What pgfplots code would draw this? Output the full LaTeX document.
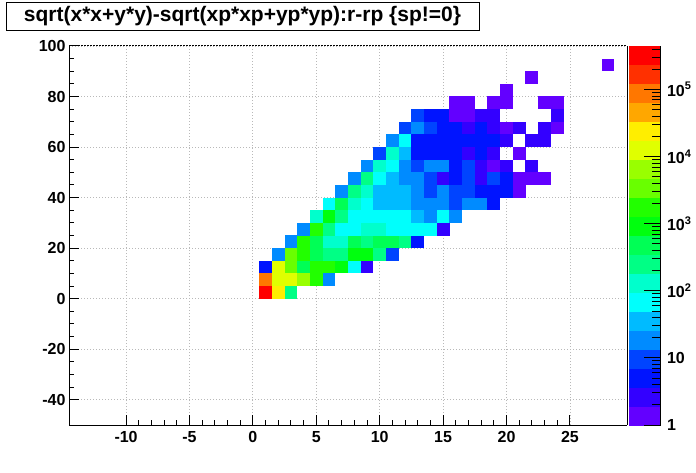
\documentclass[border=0pt]{standalone}
\usepackage{fontspec}
\setmainfont{Liberation Sans}
\usepackage{pgfplots}
\pgfplotsset{compat=1.18}
\usepackage{pgfplotstable}
\pgfdeclareplotmark{cell}{\pgfpathrectangle{\pgfpoint{-6.42pt}{-6.38pt}}{\pgfpoint{12.84pt}{12.76pt}}\pgfusepathqfill}
\newcommand\sups[1]{\raisebox{0.42em}{\fontsize{11}{11}\selectfont #1}}
\pgfplotstableread{
x y n
1 2.5 330000
2 2.5 25000
3 2.5 250
1 7.5 90000
2 7.5 12000
3 7.5 12000
4 7.5 6500
5 7.5 1800
6 7.5 20
1 12.5 5
2 12.5 12000
3 12.5 3500
4 12.5 500
5 12.5 1800
6 12.5 1800
7 12.5 900
8 12.5 70
9 12.5 3
2 17.5 20
3 17.5 3500
4 17.5 1800
5 17.5 500
6 17.5 250
7 17.5 250
8 17.5 900
9 17.5 900
10 17.5 250
11 17.5 10
3 22.5 20
4 22.5 1800
5 22.5 500
6 22.5 130
7 22.5 130
8 22.5 500
9 22.5 250
10 22.5 500
11 22.5 500
12 22.5 250
13 22.5 5
4 27.5 20
5 27.5 1800
6 27.5 250
7 27.5 70
8 27.5 70
9 27.5 130
10 27.5 130
11 27.5 70
12 27.5 70
13 27.5 70
14 27.5 70
15 27.5 3
5 32.5 130
6 32.5 900
7 32.5 250
8 32.5 70
9 32.5 70
10 32.5 70
11 32.5 70
12 32.5 70
13 32.5 35
14 32.5 20
15 32.5 70
16 32.5 20
6 37.5 70
7 37.5 500
8 37.5 130
9 37.5 70
10 37.5 35
11 37.5 35
12 37.5 35
13 37.5 20
14 37.5 20
15 37.5 20
16 37.5 10
17 37.5 20
18 37.5 20
19 37.5 5
7 42.5 20
8 42.5 250
9 42.5 130
10 42.5 35
11 42.5 35
12 42.5 35
13 42.5 20
14 42.5 10
15 42.5 20
16 42.5 10
17 42.5 10
18 42.5 5
19 42.5 5
20 42.5 5
21 42.5 1
8 47.5 20
9 47.5 250
10 47.5 70
11 47.5 35
12 47.5 20
13 47.5 20
14 47.5 10
15 47.5 3
16 47.5 5
17 47.5 10
18 47.5 3
19 47.5 10
20 47.5 5
21 47.5 1
22 47.5 1
23 47.5 1
9 52.5 20
10 52.5 130
11 52.5 70
12 52.5 20
13 52.5 10
14 52.5 20
15 52.5 20
16 52.5 5
17 52.5 10
18 52.5 3
19 52.5 1
20 52.5 3
22 52.5 3
10 57.5 10
11 57.5 130
12 57.5 35
13 57.5 5
14 57.5 5
15 57.5 5
16 57.5 5
17 57.5 3
18 57.5 5
19 57.5 3
21 57.5 1
11 62.5 20
12 62.5 70
13 62.5 5
14 62.5 5
15 62.5 5
16 62.5 5
17 62.5 5
18 62.5 5
19 62.5 5
20 62.5 3
22 62.5 3
23 62.5 3
12 67.5 10
13 67.5 20
14 67.5 10
15 67.5 5
16 67.5 5
17 67.5 3
18 67.5 5
19 67.5 3
20 67.5 1
21 67.5 3
23 67.5 3
24 67.5 1
13 72.5 10
14 72.5 5
15 72.5 5
16 72.5 1
17 72.5 1
18 72.5 3
19 72.5 3
24 72.5 3
16 77.5 1
17 77.5 1
19 77.5 1
20 77.5 1
23 77.5 1
24 77.5 1
20 82.5 1
22 87.5 1
28 92.5 1
}\histdata
\begin{document}
\begin{tikzpicture}
\path[use as bounding box] (0,0) rectangle (696pt,472pt);
\begin{axis}[
  at={(69pt,47pt)}, anchor=south west,
  scale only axis, width=558pt, height=379pt,
  xmin=-14.5, xmax=29.5, ymin=-50, ymax=100,
  axis x line*=bottom, axis y line*=left,
  axis line style={line width=1pt},
  axis on top,
  xtick={-10,-5,...,25}, ytick={-40,-20,...,100},
  minor x tick num=4, minor y tick num=3,
  tick align=inside,
  major tick length=10pt, minor tick length=5pt,
  tick style={black, line width=1pt},
  grid=major,
  major grid style={line width=0.8pt, gray!55, dash pattern=on 1pt off 2pt},
  ticklabel style={font=\bfseries\fontsize{16}{16}\selectfont},
  xticklabel style={yshift=-3pt},
  /pgf/number format/assume math mode=true,
  colormap={root}{rgb255=(99,0,255) rgb255=(51,0,255) rgb255=(0,20,255) rgb255=(0,68,255) rgb255=(0,139,255) rgb255=(0,187,255) rgb255=(0,255,252) rgb255=(0,255,204) rgb255=(0,255,133) rgb255=(0,255,85) rgb255=(0,255,14) rgb255=(34,255,0) rgb255=(105,255,0) rgb255=(153,255,0) rgb255=(224,255,0) rgb255=(255,238,0) rgb255=(255,167,0) rgb255=(255,119,0) rgb255=(255,48,0) rgb255=(255,0,0)},
  colormap access=piecewise constant,
  point meta min=0, point meta max=5.65,
  colorbar,
  colorbar style={
    at={(parent axis.north east)}, anchor=north west, xshift=-7pt,
    width=32pt,
    axis x line=none, axis y line*=right,
    axis line style={line width=1pt},
    ytick={0,1,2,3,4,5},
    yticklabels={1,10,{10\sups{2}},{10\sups{3}},{10\sups{4}},{10\sups{5}}},
    minor ytick={0.30103,0.47712,0.60206,0.69897,0.77815,0.84510,0.90309,0.95424,
      1.30103,1.47712,1.60206,1.69897,1.77815,1.84510,1.90309,1.95424,
      2.30103,2.47712,2.60206,2.69897,2.77815,2.84510,2.90309,2.95424,
      3.30103,3.47712,3.60206,3.69897,3.77815,3.84510,3.90309,3.95424,
      4.30103,4.47712,4.60206,4.69897,4.77815,4.84510,4.90309,4.95424,
      5.30103,5.47712,5.60206},
    tick align=inside,
    major tick length=17pt, minor tick length=9pt,
    tick style={black, line width=1pt},
    yticklabel style={font=\bfseries\fontsize{16}{16}\selectfont, xshift=3pt},
  },
  after end axis/.code={
    \draw[line width=1pt] (rel axis cs:1,0) -- (rel axis cs:1,1);
    \draw[line width=1pt, dash pattern=on 2pt off 1pt] (rel axis cs:0,1) -- (rel axis cs:1,1);
  },
]
\addplot[scatter, only marks, mark=cell, scatter/use mapped color={fill=mapped color}, point meta={log10(\thisrow{n})}] table[x=x,y=y] {\histdata};
\end{axis}
\draw[line width=1pt, fill=white] (6pt,441.5pt) rectangle (479pt,469.5pt);
\node[font=\bfseries\fontsize{21}{21}\selectfont, inner sep=0pt] at (242.5pt,455.5pt) {sqrt(x*x+y*y)-sqrt(xp*xp+yp*yp):r-rp \{sp!=0\}};
\end{tikzpicture}
\end{document}
